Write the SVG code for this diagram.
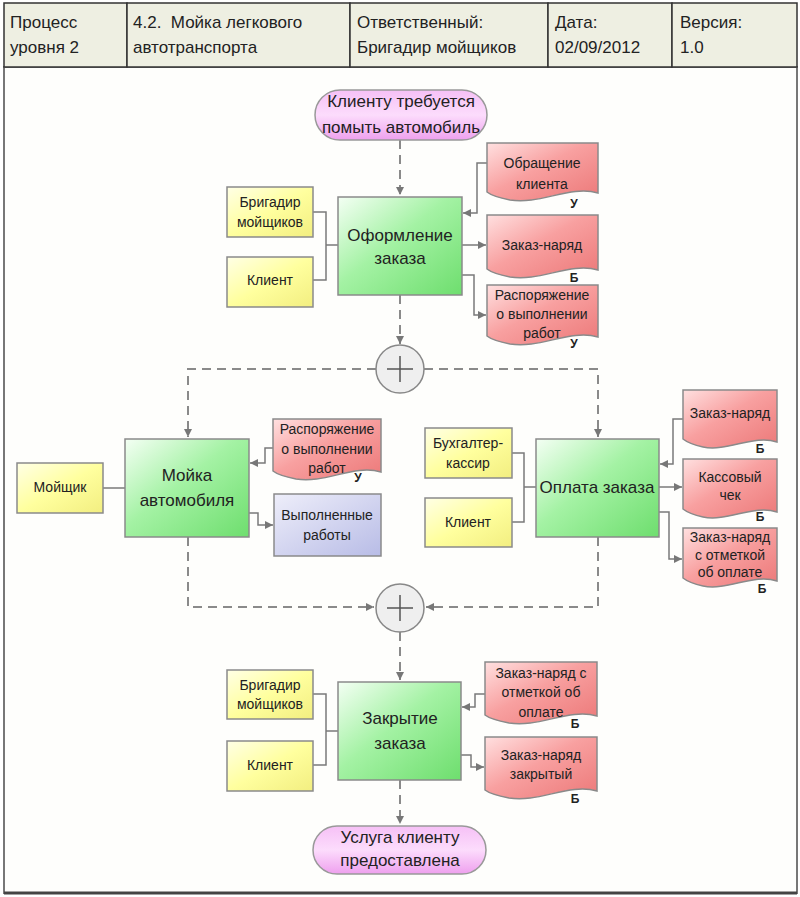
<svg xmlns="http://www.w3.org/2000/svg" width="800" height="897" viewBox="0 0 800 897">
<defs>
<linearGradient id="gFn" x1="0" y1="0" x2="1" y2="1"><stop offset="0" stop-color="#F4FFF4"/><stop offset="0.45" stop-color="#A4F2A4"/><stop offset="1" stop-color="#6EDE6E"/></linearGradient>
<linearGradient id="gYe" x1="0" y1="0" x2="1" y2="1"><stop offset="0" stop-color="#FFFFE6"/><stop offset="0.5" stop-color="#FFFF9E"/><stop offset="1" stop-color="#F2EE80"/></linearGradient>
<linearGradient id="gDoc" x1="0" y1="0" x2="1" y2="1"><stop offset="0" stop-color="#FFE0E0"/><stop offset="0.45" stop-color="#F8A0A0"/><stop offset="1" stop-color="#EC7878"/></linearGradient>
<linearGradient id="gBl" x1="0" y1="0" x2="1" y2="1"><stop offset="0" stop-color="#EEEEFA"/><stop offset="1" stop-color="#B8BCE6"/></linearGradient>
<linearGradient id="gEv" x1="0" y1="0" x2="0" y2="1"><stop offset="0" stop-color="#F6C0F6"/><stop offset="0.5" stop-color="#FCDCFC"/><stop offset="1" stop-color="#EEA0EE"/></linearGradient>
<marker id="ar" viewBox="0 0 8 8" markerWidth="8" markerHeight="8" refX="8" refY="4" orient="auto" markerUnits="userSpaceOnUse"><path d="M0,0 L8,4 L0,8 Z" fill="#777"/></marker>
<style>
.hd{fill:#EEEFE2;stroke:#333;stroke-width:1.5}
.ht{font-family:"Liberation Sans",Arial,sans-serif;font-size:17px;fill:#222}
.fn{fill:url(#gFn);stroke:#8A8A8A;stroke-width:1.5}
.ye{fill:url(#gYe);stroke:#8A8A8A;stroke-width:1.5}
.doc{fill:url(#gDoc);stroke:#8A8A8A;stroke-width:1.5}
.bl{fill:url(#gBl);stroke:#8A8A8A;stroke-width:1.5}
.ev{fill:url(#gEv);stroke:#999;stroke-width:1.5}
.gw{fill:#EFEFEF;stroke:#888;stroke-width:1.5}
.t17{font-family:"Liberation Sans",Arial,sans-serif;font-size:17px;fill:#222;text-anchor:middle}
.t14{font-family:"Liberation Sans",Arial,sans-serif;font-size:14px;fill:#222;text-anchor:middle}
.t13{font-family:"Liberation Sans",Arial,sans-serif;font-size:14px;fill:#222;text-anchor:middle}
.lb{font-family:"Liberation Sans",Arial,sans-serif;font-size:12px;font-weight:bold;fill:#222;text-anchor:middle}
.sc{fill:none;stroke:#7A7A7A;stroke-width:1.5}
.dc{fill:none;stroke:#8A8A8A;stroke-width:2;stroke-dasharray:9,6}
</style>
</defs>
<rect width="800" height="897" fill="#FFFFFF"/>
<rect x="4" y="67" width="793" height="826" fill="#FEFEFC" stroke="#777" stroke-width="2"/>
<line x1="4" y1="893" x2="797" y2="893" stroke="#444" stroke-width="3"/>
<g id="header">
<rect class="hd" x="4" y="3" width="123" height="64"/>
<rect class="hd" x="127" y="3" width="223" height="64"/>
<rect class="hd" x="350" y="3" width="198" height="64"/>
<rect class="hd" x="548" y="3" width="124" height="64"/>
<rect class="hd" x="672" y="3" width="125" height="64"/>
<text class="ht" x="10" y="28">Процесс</text><text class="ht" x="10" y="53">уровня 2</text>
<text class="ht" x="133" y="28" xml:space="preserve">4.2.  Мойка легкового</text><text class="ht" x="133" y="53">автотранспорта</text>
<text class="ht" x="357" y="28">Ответственный:</text><text class="ht" x="357" y="53">Бригадир мойщиков</text>
<text class="ht" x="555" y="28">Дата:</text><text class="ht" x="555" y="53">02/09/2012</text>
<text class="ht" x="680" y="28">Версия:</text><text class="ht" x="680" y="53">1.0</text>
</g>
<g id="connectors">
<path class="dc" d="M400,140 V195" marker-end="url(#ar)"/>
<path class="dc" d="M400,295 V344" marker-end="url(#ar)"/>
<path class="dc" d="M376,369 H188 V437" marker-end="url(#ar)"/>
<path class="dc" d="M424,369 H598 V437" marker-end="url(#ar)"/>
<path class="dc" d="M188,537 V607 H374" marker-end="url(#ar)"/>
<path class="dc" d="M598,537 V607 H426" marker-end="url(#ar)"/>
<path class="dc" d="M400,632 V680" marker-end="url(#ar)"/>
<path class="dc" d="M400,780 V824" marker-end="url(#ar)"/>
<path class="sc" d="M313,212 H326 V280 H313 M326,245 H338"/>
<path class="sc" d="M103,488 H125"/>
<path class="sc" d="M512,453 H524 V522 H512 M524,487 H536"/>
<path class="sc" d="M313,694 H326 V765 H313 M326,731 H338"/>
<path class="sc" d="M487,163 H477 V213 H463" marker-end="url(#ar)"/>
<path class="sc" d="M462,245 H486" marker-end="url(#ar)"/>
<path class="sc" d="M462,275 H474 V315 H486" marker-end="url(#ar)"/>
<path class="sc" d="M273,448 H265 V463 H250" marker-end="url(#ar)"/>
<path class="sc" d="M249,513 H258 V525 H273" marker-end="url(#ar)"/>
<path class="sc" d="M683,419 H673 V464 H660" marker-end="url(#ar)"/>
<path class="sc" d="M659,487 H682" marker-end="url(#ar)"/>
<path class="sc" d="M659,512 H669 V559 H682" marker-end="url(#ar)"/>
<path class="sc" d="M485,694 H475 V707 H462" marker-end="url(#ar)"/>
<path class="sc" d="M461,755 H471 V767 H484" marker-end="url(#ar)"/>
</g>
<g id="ev_start"><rect class="ev" x="315" y="90" width="172" height="50" rx="25"/>
<text class="t17" x="401" y="107">Клиенту требуется</text><text class="t17" x="401" y="133">помыть автомобиль</text></g>
<g id="ev_end"><rect class="ev" x="313" y="826" width="173" height="48" rx="24"/>
<text class="t17" x="400" y="843">Услуга клиенту</text><text class="t17" x="400" y="866">предоставлена</text></g>
<g id="fn_oform"><rect class="fn" x="338" y="197" width="124" height="98"/>
<text class="t17" x="400" y="241">Оформление</text><text class="t17" x="400" y="264">заказа</text></g>
<g id="fn_moika"><rect class="fn" x="125" y="439" width="124" height="98"/>
<text class="t17" x="187" y="481">Мойка</text><text class="t17" x="187" y="506">автомобиля</text></g>
<g id="fn_oplata"><rect class="fn" x="536" y="439" width="123" height="98"/>
<text class="t17" x="597" y="493">Оплата заказа</text></g>
<g id="fn_zakr"><rect class="fn" x="338" y="682" width="123" height="98"/>
<text class="t17" x="400" y="724">Закрытие</text><text class="t17" x="400" y="749">заказа</text></g>
<g id="gw1"><circle class="gw" cx="400" cy="369" r="24"/><path d="M387,369 H413 M400,356 V382" stroke="#555" stroke-width="1.5"/></g>
<g id="gw2"><circle class="gw" cx="400" cy="608" r="24"/><path d="M387,608 H413 M400,595 V621" stroke="#555" stroke-width="1.5"/></g>
<g id="ou_brig1"><rect class="ye" x="227" y="187" width="86" height="50"/><text class="t14" x="270" y="207">Бригадир</text><text class="t14" x="270" y="227">мойщиков</text></g>
<g id="ou_kl1"><rect class="ye" x="227" y="257" width="86" height="50"/><text class="t14" x="270" y="285">Клиент</text></g>
<g id="ou_moi"><rect class="ye" x="17" y="463" width="86" height="50"/><text class="t14" x="60" y="492">Мойщик</text></g>
<g id="ou_buh"><rect class="ye" x="425" y="428" width="87" height="50"/><text class="t14" x="468" y="448">Бухгалтер-</text><text class="t14" x="468" y="468">кассир</text></g>
<g id="ou_kl2"><rect class="ye" x="425" y="498" width="87" height="49"/><text class="t14" x="468" y="527">Клиент</text></g>
<g id="ou_brig2"><rect class="ye" x="227" y="670" width="86" height="49"/><text class="t14" x="270" y="690">Бригадир</text><text class="t14" x="270" y="709">мойщиков</text></g>
<g id="ou_kl3"><rect class="ye" x="227" y="741" width="86" height="50"/><text class="t14" x="270" y="770">Клиент</text></g>
<g id="d_obr"><path class="doc" d="M487,143 H598 V193 C570,185 540,205 510,200 C500,198 492,196 487,192 Z"/>
<text class="t13" x="542" y="168">Обращение</text><text class="t13" x="542" y="189">клиента</text><text class="lb" x="574" y="208">У</text></g>
<g id="d_zn1"><path class="doc" d="M487,215 H598 V270 C570,262 540,282 510,277 C500,275 492,273 487,269 Z"/>
<text class="t13" x="542" y="250">Заказ-наряд</text><text class="lb" x="574" y="282">Б</text></g>
<g id="d_rasp1"><path class="doc" d="M487,285 H598 V337 C570,329 540,349 510,344 C500,342 492,340 487,336 Z"/>
<text class="t13" x="542" y="300">Распоряжение</text><text class="t13" x="542" y="319">о выполнении</text><text class="t13" x="542" y="338">работ</text><text class="lb" x="574" y="348">У</text></g>
<g id="d_rasp2"><path class="doc" d="M273,419 H381 V472 C354,464 325,484 296,479 C286,477 278,475 273,471 Z"/>
<text class="t13" x="327" y="434">Распоряжение</text><text class="t13" x="327" y="454">о выполнении</text><text class="t13" x="327" y="473">работ</text><text class="lb" x="358" y="482">У</text></g>
<g id="d_vyp"><rect class="bl" x="274" y="494" width="107" height="62"/>
<text class="t13" x="327" y="520">Выполненные</text><text class="t13" x="327" y="540">работы</text></g>
<g id="d_zn2"><path class="doc" d="M683,390 H777 V442 C754,434 728,452 703,447 C694,445 688,443 683,439 Z"/>
<text class="t13" x="730" y="418">Заказ-наряд</text><text class="lb" x="760" y="453">Б</text></g>
<g id="d_chek"><path class="doc" d="M683,459 H777 V512 C754,504 728,522 703,517 C694,515 688,513 683,509 Z"/>
<text class="t13" x="730" y="482">Кассовый</text><text class="t13" x="730" y="500">чек</text><text class="lb" x="760" y="521">Б</text></g>
<g id="d_zn3"><path class="doc" d="M683,528 H777 V581 C754,573 728,591 703,586 C694,584 688,582 683,578 Z"/>
<text class="t13" x="730" y="542">Заказ-наряд</text><text class="t13" x="730" y="560">с отметкой</text><text class="t13" x="730" y="577">об оплате</text><text class="lb" x="762" y="593">Б</text></g>
<g id="d_zn4"><path class="doc" d="M485,662 H597 V716 C569,708 539,728 509,723 C499,721 490,719 485,715 Z"/>
<text class="t13" x="541" y="678">Заказ-наряд с</text><text class="t13" x="541" y="697">отметкой об</text><text class="t13" x="541" y="717">оплате</text><text class="lb" x="575" y="728">Б</text></g>
<g id="d_zn5"><path class="doc" d="M485,737 H597 V791 C569,783 539,803 509,798 C499,796 490,794 485,790 Z"/>
<text class="t13" x="541" y="760">Заказ-наряд</text><text class="t13" x="541" y="779">закрытый</text><text class="lb" x="575" y="803">Б</text></g>
</svg>
